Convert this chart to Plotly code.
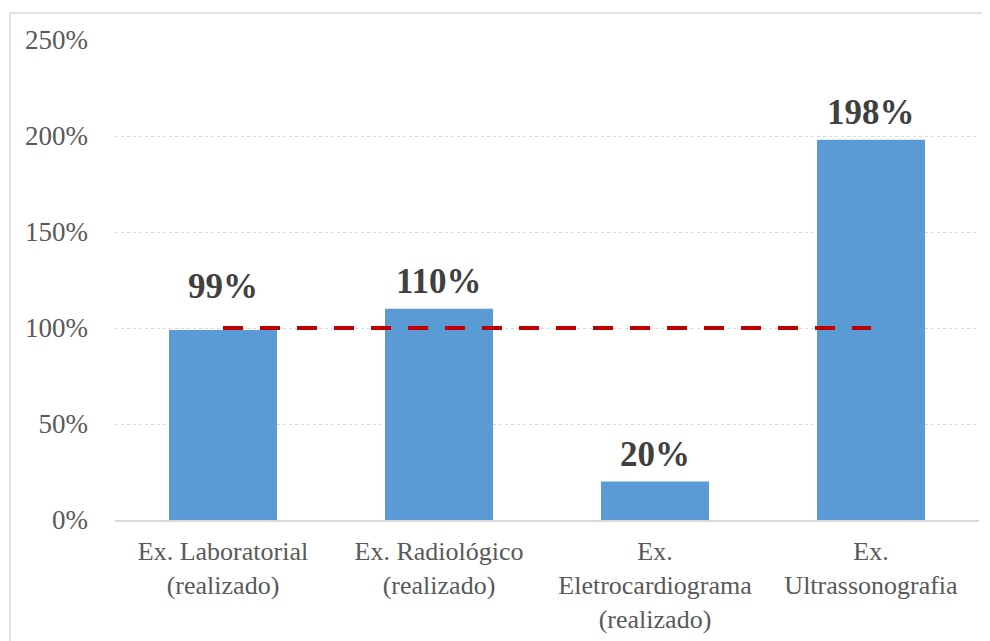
import plotly.graph_objects as go

categories = [
    "Ex. Laboratorial<br>(realizado)",
    "Ex. Radiológico<br>(realizado)",
    "Ex.<br>Eletrocardiograma<br>(realizado)",
    "Ex.<br>Ultrassonografia",
]
values = [99, 110, 20, 198]
target = [100, 100, 100, 100]
value_labels = ["99%", "110%", "20%", "198%"]
y_ticks = [0, 50, 100, 150, 200, 250]
y_tick_labels = ["0%", "50%", "100%", "150%", "200%", "250%"]

FONT = "Liberation Serif, Times New Roman, serif"

fig = go.Figure()
fig.add_trace(go.Bar(
    x=categories, y=values,
    marker=dict(color="#5B9BD5", line=dict(width=0)),
    hoverinfo="skip",
))
fig.add_trace(go.Scatter(
    x=categories, y=target, mode="lines",
    line=dict(color="#C00000", width=4, dash="20px,17px"),
    hoverinfo="skip",
))

for c, v, t, lab in zip(categories, values, target, value_labels):
    # a label whose bar ends just under the target line is lifted above the line
    near_below = (v < t) and (t - v < 10)
    fig.add_annotation(
        x=c, y=t if near_below else v, text="<b>" + lab + "</b>", showarrow=False,
        yanchor="bottom", yshift=20 if near_below else 6,
        font=dict(family=FONT, size=35, color="#404040"),
    )

# chart border
fig.add_shape(type="rect", xref="paper", yref="paper",
              x0=(2 - 107) / 864, x1=(1000 - 107) / 864,
              y0=-0.5, y1=1 + (32 - 5) / 480,
              line=dict(color="#D9D9D9", width=1.5), layer="below")

fig.update_layout(
    width=990, height=641,
    margin=dict(l=107, r=19, t=32, b=129, autoexpand=False),
    paper_bgcolor="white", plot_bgcolor="white",
    showlegend=False, bargap=0.5,
    font=dict(family=FONT, color="#595959"),
)
fig.update_xaxes(
    showgrid=False, showline=True, linecolor="#D9D9D9", linewidth=1.5,
    ticks="", tickfont=dict(family=FONT, size=26, color="#595959"),
    ticklabelstandoff=7, tickangle=0, automargin=False,
)
fig.update_yaxes(
    range=[0, 250], tickvals=y_ticks, ticktext=y_tick_labels,
    showgrid=True, gridcolor="#D9D9D9", gridwidth=1, griddash="dot",
    zeroline=False, showline=False, ticks="",
    tickfont=dict(family=FONT, size=27, color="#595959"),
    ticklabelstandoff=26, automargin=False,
)

fig.write_html("out.html")
